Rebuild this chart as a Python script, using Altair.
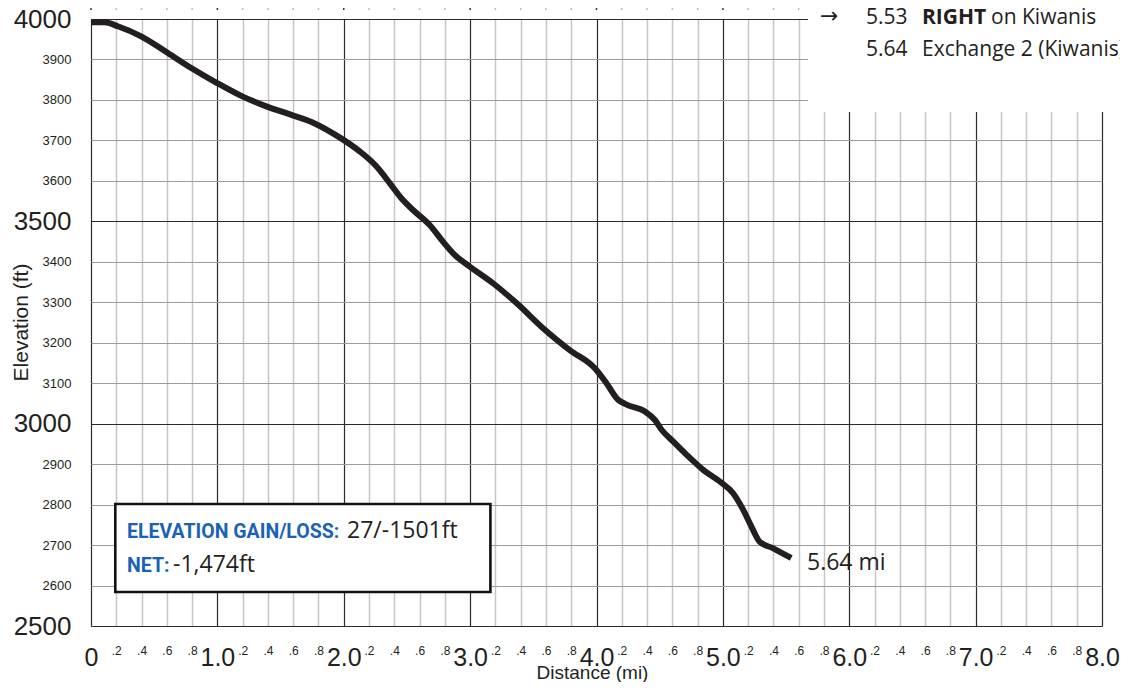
import altair as alt
import pandas as pd

# ---------------- data ----------------
dist_mi = [0.0, 0.107, 0.212, 0.397, 0.608, 0.793, 0.991, 1.189, 1.387, 1.585,
           1.770, 1.954, 2.126, 2.258, 2.365, 2.456, 2.548, 2.680, 2.785, 2.878,
           2.997, 3.181, 3.367, 3.577, 3.788, 3.987, 4.079, 4.171, 4.238, 4.383,
           4.462, 4.515, 4.606, 4.713, 4.844, 4.976, 5.081, 5.161, 5.227, 5.292,
           5.398, 5.540]
elev_ft = [3992, 3992, 3982, 3957, 3916, 3879, 3843, 3810, 3784, 3763,
           3742, 3710, 3673, 3636, 3594, 3557, 3528, 3491, 3450, 3417,
           3388, 3347, 3298, 3236, 3182, 3137, 3100, 3059, 3047, 3030,
           3009, 2985, 2956, 2923, 2886, 2857, 2828, 2787, 2745, 2708,
           2692, 2668]

x_ticks = [0.0, 0.2, 0.4, 0.6, 0.8, 1.0, 1.2, 1.4, 1.6, 1.8, 2.0, 2.2, 2.4, 2.6,
           2.8, 3.0, 3.2, 3.4, 3.6, 3.8, 4.0, 4.2, 4.4, 4.6, 4.8, 5.0, 5.2, 5.4,
           5.6, 5.8, 6.0, 6.2, 6.4, 6.6, 6.8, 7.0, 7.2, 7.4, 7.6, 7.8, 8.0]
y_ticks = [2500, 2600, 2700, 2800, 2900, 3000, 3100, 3200, 3300, 3400, 3500,
           3600, 3700, 3800, 3900, 4000]

end_label = "5.64 mi"
gain_title = "ELEVATION GAIN/LOSS:"
gain_value = "27/-1501ft"
net_title = "NET:"
net_value = "-1,474ft"
cue_arrow = "\u2192"
cue1_mile = "5.53"
cue1_bold = "RIGHT"
cue1_rest = "on Kiwanis"
cue2_mile = "5.64"
cue2_rest = "Exchange 2 (Kiwanis)"

profile = pd.DataFrame({"mi": dist_mi, "ft": elev_ft})
ticks_df = pd.DataFrame({"mi": x_ticks})

INK = "#231f20"
BLUE = "#1a62b7"
SANS = "Liberation Sans, Arial, sans-serif"
HUMAN = "Open Sans, Noto Sans, sans-serif"
NARROW = "Roboto, sans-serif"

x_major = "round(datum.value*5) % 5 == 0"
y_major = "datum.value % 500 == 0"

xscale = alt.Scale(domain=[0, 8], nice=False, zero=False)
yscale = alt.Scale(domain=[2500, 4000], nice=False, zero=False)

x_axis = alt.Axis(
    values=x_ticks, tickCount=100, grid=True, domain=False, ticks=False,
    gridColor={"condition": {"test": x_major, "value": "#2b2b2b"}, "value": "#c6c6c6"},
    gridWidth={"condition": {"test": x_major, "value": 1.2}, "value": 1.5},
    labelExpr="datum.value == 0 ? '0' : (round(datum.value*5) % 5 == 0 ? format(datum.value, '.1f') : '.' + (round(datum.value*10) % 10))",
    labelFontSize={"condition": {"test": x_major, "value": 25}, "value": 12},
    labelPadding=19,
    labelBaseline="top", labelFont=SANS, labelColor=INK,
    labelOverlap=False, labelFlush=False,
    title="Distance (mi)", titleFont=SANS, titleFontSize=19, titleFontWeight="normal",
    titleColor=INK, titleX=501, titleY=52, titleBaseline="alphabetic", titleAlign="center",
)
y_axis = alt.Axis(
    values=y_ticks, tickCount=100, format="d", grid=True, domain=False, ticks=False,
    gridColor={"condition": {"test": y_major, "value": "#2b2b2b"}, "value": "#9c9c9c"},
    gridWidth=1.2,
    labelFontSize={"condition": {"test": y_major, "value": 26}, "value": 13},
    labelPadding=20, labelFont=SANS, labelColor=INK,
    labelOverlap=False, labelFlush=False, labelBaseline="middle",
    title="Elevation (ft)", titleFont=SANS, titleFontSize=21, titleFontWeight="normal",
    titleColor=INK, titleX=-70, titleY=303, titleBaseline="middle", titleAlign="center",
)

line = alt.Chart(profile).mark_line(
    color=INK, strokeWidth=6, interpolate="monotone", strokeCap="butt", strokeJoin="round"
).encode(
    x=alt.X("mi:Q", scale=xscale, axis=x_axis),
    y=alt.Y("ft:Q", scale=yscale, axis=y_axis),
)

top_dots = alt.Chart(ticks_df).mark_rule(strokeWidth=1.5).encode(
    x=alt.X("mi:Q", scale=xscale),
    y=alt.value(-11), y2=alt.value(-9),
    color=alt.condition("round(datum.mi*5) % 5 == 0", alt.value("#333333"), alt.value("#bbbbbb")),
)

one = alt.Data(values=[{"k": 1}])

cue_box = alt.Chart(one).mark_rect(color="white").encode(
    x=alt.value(717), x2=alt.value(1040), y=alt.value(-19), y2=alt.value(93)
)

info_box = alt.Chart(one).mark_rect(fill="white", stroke="#111111", strokeWidth=2.6).encode(
    x=alt.value(24.3), x2=alt.value(399.4), y=alt.value(485), y2=alt.value(573)
)


def txt(s, x, y, size, font, color=INK, weight="normal", baseline="alphabetic"):
    return alt.Chart(one).mark_text(
        text=s, align="left", baseline=baseline, fontSize=size, font=font,
        color=color, fontWeight=weight
    ).encode(x=alt.value(x), y=alt.value(y))


layers = [
    top_dots,
    line,
    cue_box,
    info_box,
    txt(gain_title, 36, 519, 19.5, NARROW, BLUE, "bold"),
    txt(gain_value, 256, 519, 23, HUMAN),
    txt(net_title, 36, 553, 19.5, NARROW, BLUE, "bold"),
    txt(net_value, 82, 553, 23, HUMAN),
    txt(end_label, 716, 551, 23, HUMAN),
    txt(cue_arrow, 729, 4, 22, "DejaVu Sans, sans-serif"),
    txt(cue1_mile, 775, 5, 21, HUMAN),
    txt(cue1_bold, 831, 5, 21, HUMAN, INK, "bold"),
    txt(cue1_rest, 900, 5, 21, HUMAN),
    txt(cue2_mile, 775, 37, 21, HUMAN),
    txt(cue2_rest, 831, 37, 21, HUMAN),
]

chart = alt.layer(*layers).properties(
    width=1011, height=607,
    autosize=alt.AutoSizeParams(type="none"),
    padding={"left": 83, "top": 11, "right": 18, "bottom": 56},
    background="white",
).configure_view(stroke=None)

chart.save("out.html", embed_options={"renderer": "svg", "actions": False})
